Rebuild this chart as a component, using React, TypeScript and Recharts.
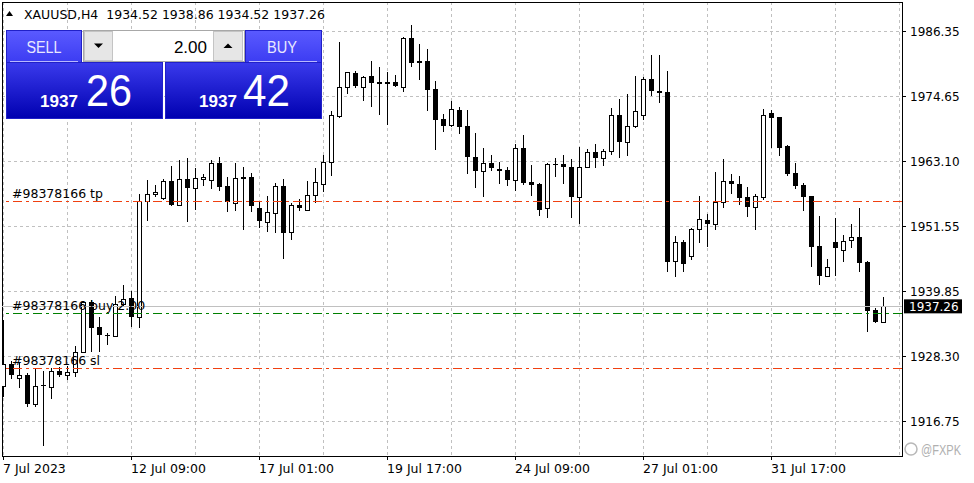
import React from 'react';
import { ComposedChart, Bar, XAxis, YAxis, CartesianGrid, ReferenceLine, ReferenceArea } from 'recharts';

// ---- data (XAUUSD H4) ----
const opens = [
  1923.10, 1926.92, 1924.53, 1924.96, 1919.89, 1923.17, 1922.92, 1925.72, 1925.06, 1925.49,
  1929.06, 1938.09, 1933.52, 1932.12, 1932.02, 1937.63, 1938.70, 1935.31, 1956.07, 1957.31,
  1956.65, 1959.58, 1955.41, 1959.94, 1958.44, 1959.94, 1959.87, 1962.79, 1958.69, 1955.76,
  1960.35, 1960.30, 1954.76, 1952.37, 1953.98, 1958.69, 1950.59, 1955.30, 1954.51, 1957.08,
  1959.15, 1962.97, 1971.29, 1976.36, 1978.86, 1976.47, 1978.38, 1977.36, 1977.36, 1977.30,
  1976.47, 1985.10, 1981.05, 1981.05, 1976.06, 1970.70, 1969.63, 1972.31, 1969.45, 1963.87,
  1961.47, 1962.79, 1961.78, 1961.60, 1959.87, 1965.47, 1959.46, 1959.10, 1954.87, 1962.62,
  1962.62, 1962.08, 1956.83, 1962.08, 1964.76, 1963.79, 1964.94, 1971.36, 1966.54, 1969.40,
  1971.36, 1977.79, 1975.64, 1975.47, 1945.30, 1948.69, 1946.20, 1951.01, 1952.62, 1951.91,
  1955.83, 1959.58, 1959.05, 1956.73, 1955.05, 1956.83, 1971.72, 1971.06, 1965.88, 1961.06,
  1958.92, 1956.96, 1948.03, 1942.73, 1948.75, 1947.37, 1949.05, 1949.64, 1945.18, 1936.61,
  1934.52,
];
const highs = [
  1934.83, 1927.56, 1927.38, 1925.31, 1926.21, 1925.78, 1926.26, 1926.38, 1926.67, 1930.24,
  1938.22, 1938.34, 1935.31, 1932.56, 1939.11, 1941.07, 1940.06, 1957.31, 1959.76, 1958.87,
  1959.94, 1962.31, 1963.33, 1963.74, 1961.90, 1960.88, 1963.33, 1963.92, 1960.35, 1962.79,
  1962.08, 1961.06, 1956.12, 1956.96, 1959.22, 1959.94, 1955.66, 1956.37, 1959.58, 1961.96,
  1964.28, 1972.13, 1984.44, 1979.09, 1979.27, 1978.38, 1981.05, 1979.98, 1979.09, 1978.50,
  1985.39, 1987.48, 1984.09, 1983.19, 1977.48, 1971.59, 1973.91, 1972.79, 1972.31, 1968.20,
  1965.47, 1964.28, 1963.03, 1962.19, 1966.24, 1967.85, 1962.49, 1959.22, 1962.79, 1963.69,
  1964.28, 1963.56, 1965.65, 1965.35, 1966.24, 1965.29, 1972.66, 1974.27, 1975.16, 1978.38,
  1978.25, 1982.12, 1982.12, 1979.27, 1949.77, 1949.10, 1951.30, 1956.96, 1953.80, 1961.24,
  1963.56, 1960.83, 1960.53, 1958.56, 1957.31, 1972.49, 1972.31, 1971.06, 1966.06, 1962.85,
  1959.28, 1956.96, 1953.39, 1945.71, 1953.03, 1949.94, 1951.96, 1954.82, 1945.36, 1936.91,
  1938.86,
];
const lows = [
  1921.14, 1924.24, 1922.74, 1919.35, 1919.24, 1912.39, 1920.67, 1924.71, 1924.12, 1924.71,
  1928.88, 1929.17, 1929.17, 1930.36, 1931.85, 1937.20, 1933.52, 1933.34, 1952.55, 1956.73,
  1956.24, 1955.17, 1955.41, 1952.37, 1954.46, 1958.80, 1958.26, 1957.90, 1954.10, 1954.33,
  1950.89, 1954.10, 1951.25, 1950.53, 1950.35, 1945.77, 1949.10, 1954.33, 1954.51, 1955.76,
  1957.73, 1960.58, 1970.88, 1975.16, 1976.23, 1973.91, 1972.84, 1971.41, 1969.63, 1976.41,
  1975.57, 1980.04, 1977.66, 1972.13, 1965.17, 1968.38, 1969.33, 1968.02, 1960.94, 1958.44,
  1956.83, 1961.42, 1959.10, 1958.74, 1957.90, 1958.92, 1956.96, 1953.44, 1953.08, 1960.40,
  1959.10, 1953.08, 1951.96, 1962.08, 1962.01, 1962.31, 1964.33, 1963.69, 1964.15, 1969.04,
  1970.52, 1974.86, 1973.50, 1943.34, 1942.55, 1943.34, 1945.48, 1948.52, 1947.91, 1950.94,
  1954.87, 1957.37, 1955.41, 1953.16, 1950.94, 1956.24, 1965.58, 1964.15, 1960.58, 1958.26,
  1954.33, 1944.34, 1941.13, 1942.73, 1942.73, 1945.18, 1947.73, 1943.39, 1932.74, 1934.34,
  1934.52,
];
const closes = [
  1926.92, 1925.01, 1924.96, 1919.83, 1923.10, 1923.05, 1925.67, 1925.01, 1925.49, 1929.06,
  1938.09, 1933.34, 1932.10, 1932.08, 1937.63, 1938.52, 1935.31, 1956.01, 1957.26, 1957.67,
  1959.58, 1955.35, 1959.94, 1958.44, 1960.12, 1960.35, 1962.79, 1958.62, 1955.94, 1960.12,
  1959.99, 1955.23, 1952.55, 1954.05, 1958.69, 1950.41, 1955.30, 1954.87, 1957.08, 1959.40,
  1962.97, 1971.36, 1976.36, 1979.04, 1976.64, 1978.14, 1977.18, 1977.00, 1977.00, 1976.64,
  1985.10, 1980.75, 1980.75, 1975.88, 1970.58, 1969.51, 1972.43, 1969.33, 1963.97, 1961.47,
  1962.79, 1962.01, 1961.47, 1959.87, 1965.47, 1959.33, 1958.98, 1954.51, 1962.62, 1962.54,
  1962.08, 1956.83, 1962.08, 1964.76, 1963.79, 1964.99, 1971.36, 1966.65, 1969.40, 1972.08,
  1977.79, 1975.75, 1975.29, 1945.23, 1948.69, 1944.77, 1951.01, 1952.80, 1951.91, 1955.83,
  1959.58, 1959.05, 1956.65, 1955.05, 1956.90, 1971.36, 1970.93, 1965.58, 1960.94, 1958.80,
  1956.83, 1947.91, 1942.73, 1944.29, 1947.73, 1948.87, 1949.64, 1945.05, 1936.43, 1934.47,
  1937.26,
];

const priceTicks = [1916.75, 1928.3, 1939.85, 1951.55, 1963.1, 1974.65, 1986.35];
const gridBars = [0, 8, 16, 24, 32, 40, 48, 56, 64, 72, 80, 88, 96, 104, 112];
const labelBars = [0, 16, 32, 48, 64, 80, 96];
const timeLabels = ['7 Jul 2023', '12 Jul 09:00', '17 Jul 01:00', '19 Jul 17:00', '24 Jul 09:00', '27 Jul 01:00', '31 Jul 17:00'];

const symbol = 'XAUUSD,H4';
const orderId = '#98378166';
const tpPrice = 1956.06;
const entryPrice = 1935.9;
const slPrice = 1926.08;
const lots = 2.0;
const bidPrice = 1937.26;
const askPrice = 1937.42;

const xDomain: [number, number] = [-0.1625, 112.3375];
const yDomain: [number, number] = [1910.55, 1991.58];

const data = opens.map((o, i) => ({ i, open: o, high: highs[i], low: lows[i], close: closes[i] }));

const FONT = 'DejaVu Sans';

const Candle = (props: any) => {
  const { x, y, width, height, payload } = props;
  if (!payload || x == null) return <g />;
  const { open, high, low, close } = payload;
  const cx = Math.floor(x + width / 2) + 0.5;
  const top = Math.min(y, y + height);
  const h = Math.abs(height);
  const range = high - low;
  const k = range > 0 ? h / range : 0;
  const py = (p: number) => top + (high - p) * k;
  const yO = py(open);
  const yC = py(close);
  const bull = close >= open;
  const bTop = Math.round(Math.min(yO, yC));
  const bBot = Math.round(Math.max(yO, yC));
  return (
    <g>
      <line x1={cx} x2={cx} y1={Math.round(top)} y2={Math.round(top + h)} stroke="#000" strokeWidth={1} />
      {bull ? (
        <rect x={cx - 2} y={bTop + 0.5} width={4} height={Math.max(bBot - bTop, 0)} fill="#fff" stroke="#000" strokeWidth={1} />
      ) : (
        <rect x={cx - 2.5} y={bTop} width={5} height={Math.max(bBot - bTop, 1)} fill="#000" />
      )}
    </g>
  );
};

const XTick = (props: any) => {
  const { x, y, payload } = props;
  const k = labelBars.indexOf(payload.value);
  if (k < 0) return <g />;
  const px = Math.floor(x) + 0.5;
  return (
    <g>
      <line x1={px} x2={px} y1={y} y2={y + 4} stroke="#000" />
      <text x={px - 0.5} y={y + 17} fontSize={12.5} fontFamily={FONT} fill="#000">
        {timeLabels[k]}
      </text>
    </g>
  );
};

// crisp horizontal level line drawn through the library's coordinates
const levelShape = (color: string, dash?: string) => (p: any) => {
  const y = Math.floor(p.y1 ?? 0) + 0.5;
  return <line x1={p.x1} x2={p.x2} y1={y} y2={y} stroke={color} strokeWidth={1} strokeDasharray={dash} />;
};

const orderLabel = (text: string) => (p: any) => {
  const vb = p.viewBox || {};
  return (
    <text x={(vb.x || 0) + 10} y={(vb.y || 0) - 3.5} fontSize={12.5} fontFamily={FONT} fill="#000">
      {text}
    </text>
  );
};

const bidLabel = (p: any) => {
  const vb = p.viewBox || {};
  const right = (vb.x || 0) + (vb.width || 0);
  const yy = vb.y || 0;
  return (
    <g>
      <rect x={right + 2} y={yy - 7} width={58} height={14} fill="#000" />
      <text x={right + 7} y={yy + 4.5} fontSize={12} fontFamily={FONT} fill="#fff">
        {bidPrice.toFixed(2)}
      </text>
    </g>
  );
};

const splitPrice = (p: number) => {
  const s = p.toFixed(2);
  const [a, b] = s.split('.');
  return [a, b];
};

const DASHDOT = '9 4 3 4';

export default function App() {
  const last = data[data.length - 1];
  const title = `${symbol}  ${last.open.toFixed(2)} ${last.high.toFixed(2)} ${last.low.toFixed(2)} ${last.close.toFixed(2)}`;
  const [sBig, sSmall] = splitPrice(bidPrice);
  const [bBig, bSmall] = splitPrice(askPrice);
  return (
    <div style={{ position: 'absolute', left: 0, top: 0, width: 974, height: 483, background: '#fff', overflow: 'hidden' }}>
      <ComposedChart width={974} height={483} data={data} margin={{ top: 2, right: 0, bottom: 0, left: 2 }}>
        <CartesianGrid stroke="#c0c0c0" strokeDasharray="3 3" shapeRendering="crispEdges" />
        <XAxis
          type="number"
          dataKey="i"
          domain={xDomain}
          ticks={gridBars}
          interval={0}
          allowDataOverflow
          height={27}
          tickSize={0}
          tickMargin={0}
          tickLine={false}
          axisLine={{ stroke: '#000', shapeRendering: 'crispEdges' }}
          tick={<XTick />}
        />
        <YAxis
          orientation="right"
          type="number"
          domain={yDomain}
          ticks={priceTicks}
          allowDataOverflow
          width={72}
          tickSize={4}
          tickMargin={4}
          axisLine={{ stroke: '#000', shapeRendering: 'crispEdges' }}
          tickLine={{ stroke: '#000', shapeRendering: 'crispEdges' }}
          tick={{ fill: '#000', fontSize: 12, fontFamily: FONT }}
          tickFormatter={(v: number) => v.toFixed(2)}
        />
        <ReferenceArea x1={xDomain[0]} x2={xDomain[1]} y1={yDomain[0]} y2={yDomain[1]} fill="none" stroke="#000" fillOpacity={0} shapeRendering="crispEdges" />
        <ReferenceLine y={tpPrice} shape={levelShape('#f04010', DASHDOT)} label={orderLabel(`${orderId} tp`)} />
        <ReferenceLine y={bidPrice} shape={levelShape('#c0c0c0')} label={bidLabel} />
        <ReferenceLine y={entryPrice} shape={levelShape('#008000', DASHDOT)} label={orderLabel(`${orderId} buy ${lots.toFixed(2)}`)} />
        <ReferenceLine y={slPrice} shape={levelShape('#f04010', DASHDOT)} label={orderLabel(`${orderId} sl`)} />
        <Bar dataKey={(d: any) => [d.low, d.high]} shape={<Candle />} isAnimationActive={false} />
      </ComposedChart>

      <svg width={974} height={483} style={{ position: 'absolute', left: 0, top: 0, pointerEvents: 'none' }}>
        <defs>
          <linearGradient id="hdr" x1="0" y1="0" x2="0" y2="1">
            <stop offset="0" stopColor="#5a5aff" />
            <stop offset="1" stopColor="#3c3cf2" />
          </linearGradient>
          <linearGradient id="body" x1="0" y1="0" x2="0" y2="1">
            <stop offset="0" stopColor="#3a3aec" />
            <stop offset="1" stopColor="#0000b0" />
          </linearGradient>
        </defs>
        {/* title */}
        <polygon points="6,16 13,16 9.5,11" fill="#000" />
        <text x={24} y={19} fontSize={12.5} fontFamily={FONT} fill="#000" style={{ whiteSpace: 'pre' }}>
          {title}
        </text>

        {/* SELL block */}
        <rect x={6.5} y={30.5} width={75} height={32} fill="url(#hdr)" stroke="#2020c8" />
        <rect x={6.5} y={62.5} width={156} height={56} fill="url(#body)" stroke="#2020c8" />
        <line x1={10} x2={78} y1={61.5} y2={61.5} stroke="#b8b8ff" />
        <text x={44} y={53} fontSize={16} fontFamily="Liberation Sans" fill="#e8e8ff" textAnchor="middle" textLength={35} lengthAdjust="spacingAndGlyphs">SELL</text>
        <text x={40} y={107} fontSize={17} fontWeight="bold" fontFamily="Liberation Sans" fill="#fff" textLength={38} lengthAdjust="spacingAndGlyphs">{sBig}</text>
        <text x={86} y={106} fontSize={45} fontFamily="Liberation Sans" fill="#fff" textLength={46} lengthAdjust="spacingAndGlyphs">{sSmall}</text>

        {/* BUY block */}
        <rect x={245.5} y={30.5} width={76} height={32} fill="url(#hdr)" stroke="#2020c8" />
        <rect x={165.5} y={62.5} width={156} height={56} fill="url(#body)" stroke="#2020c8" />
        <line x1={249} x2={317} y1={61.5} y2={61.5} stroke="#b8b8ff" />
        <text x={282} y={53} fontSize={16} fontFamily="Liberation Sans" fill="#e8e8ff" textAnchor="middle" textLength={30} lengthAdjust="spacingAndGlyphs">BUY</text>
        <text x={199} y={107} fontSize={17} fontWeight="bold" fontFamily="Liberation Sans" fill="#fff" textLength={38} lengthAdjust="spacingAndGlyphs">{bBig}</text>
        <text x={243} y={106} fontSize={45} fontFamily="Liberation Sans" fill="#fff" textLength={47} lengthAdjust="spacingAndGlyphs">{bSmall}</text>

        {/* lot control */}
        <rect x={83.5} y={30.5} width={161} height={31} fill="#fff" stroke="#a8a8a8" />
        <rect x={84.5} y={31.5} width={28} height={29} fill="#e6e6e6" stroke="#c4c4c4" />
        <rect x={213.5} y={31.5} width={29} height={29} fill="#e6e6e6" stroke="#c4c4c4" />
        <polygon points="94,43.5 103,43.5 98.5,48" fill="#000" />
        <polygon points="223.5,48 232.5,48 228,43.5" fill="#000" />
        <text x={207} y={53} fontSize={17} fontFamily="Liberation Sans" fill="#000" textAnchor="end">{lots.toFixed(2)}</text>

        {/* watermark */}
        <circle cx={911} cy={449} r={6} fill="none" stroke="#b8b8b8" strokeWidth={1.5} />
        <text x={921} y={455} fontSize={15} fontFamily="Liberation Sans" fill="#b0b0b0" textLength={40} lengthAdjust="spacingAndGlyphs">@FXPK</text>
      </svg>
    </div>
  );
}
